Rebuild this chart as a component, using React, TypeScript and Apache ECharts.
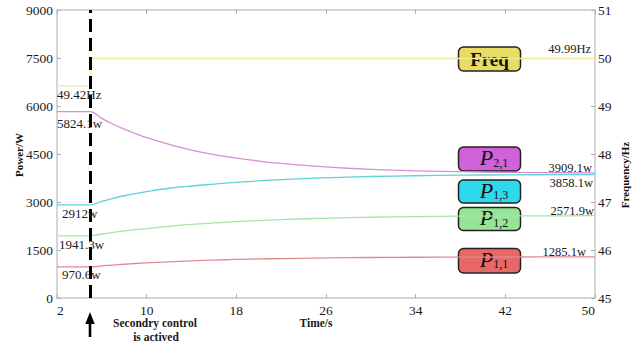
import React, { useEffect, useRef } from "react";
import * as echarts from "echarts";

const times = [2, 5, 6, 7, 8, 9, 10, 12, 14, 16, 18, 20, 22, 25, 28, 32, 36, 40, 45, 50];
const p21 = [5824.1, 5824.1, 5614, 5430, 5275, 5140, 5010, 4800, 4620, 4480, 4370, 4280, 4205, 4120, 4055, 3995, 3960, 3938, 3920, 3909.1];
const p13 = [2912, 2912, 3020, 3115, 3195, 3265, 3325, 3430, 3500, 3560, 3615, 3660, 3700, 3745, 3780, 3810, 3830, 3843, 3852, 3858.1];
const p12 = [1941.3, 1941.3, 2000, 2050, 2095, 2135, 2170, 2240, 2300, 2345, 2385, 2420, 2450, 2485, 2510, 2535, 2550, 2560, 2567, 2571.9];
const p11 = [970.6, 970.6, 1002, 1030, 1055, 1078, 1098, 1132, 1162, 1185, 1205, 1220, 1233, 1248, 1259, 1270, 1276, 1280, 1283, 1285.1];
const freqTimes = [2, 5, 5, 50];
const freqValues = [49.42, 49.42, 49.99, 49.99];
const switchTime = 5;

const SERIF = "Liberation Serif";

const pair = (xs: number[], ys: number[]) => xs.map((x, i) => [x, ys[i]]);

export default function App() {
  const ref = useRef<HTMLDivElement>(null);
  useEffect(() => {
    document.body.style.margin = "0";
    if (!ref.current) return;
    const chart = echarts.init(ref.current, null, { renderer: "svg" });
    const axisLine = { show: true, lineStyle: { color: "#c8c8c8", width: 1.5 } };
    const tick = { show: true, inside: true, length: 4, lineStyle: { color: "#b0b0b0" } };
    const lbl = { fontFamily: SERIF, fontSize: 13.5, color: "#1a1a1a", formatter: (v: number) => String(v) };
    const line = (name: string, data: number[][], color: string, yIdx = 0) => ({
      name,
      type: "line",
      data,
      yAxisIndex: yIdx,
      symbol: "none",
      smooth: 0.3,
      lineStyle: { color, width: 1.3 },
      z: 3,
    });

    const legendBox = (y: number, h: number, fill: string, content: any) => ({
      type: "group",
      children: [
        {
          type: "rect",
          shape: { x: 458.5, y, width: 62, height: h, r: 5 },
          style: { fill, stroke: "#222", lineWidth: 1.5 },
        },
        content,
      ],
    });
    const pLabel = (sub: string, cy: number) => ({
      type: "text",
      x: 494,
      y: cy,
      style: {
        text: `{p|P}{s|${sub}}`,
        align: "center",
        verticalAlign: "middle",
        rich: {
          p: { fontFamily: SERIF, fontStyle: "italic", fontSize: 22, lineHeight: 22, verticalAlign: "top", fill: "#111" },
          s: { fontFamily: SERIF, fontSize: 12, lineHeight: 12, verticalAlign: "bottom", fill: "#111" },
        },
      },
    });
    const txt = (text: string, x: number, y: number, align = "left", size = 13, extra: any = {}) => ({
      type: "text",
      x,
      y,
      style: { text, fontFamily: SERIF, fontSize: size, fill: "#1a1a1a", align, verticalAlign: "middle", ...extra },
      z: 10,
    });

    chart.setOption({
      animation: false,
      backgroundColor: "#ffffff",
      grid: { left: 57, right: 47, top: 10, bottom: 43 },
      xAxis: [
        {
          type: "value",
          min: 2,
          max: 50,
          interval: 8,
          axisLine,
          axisTick: tick,
          splitLine: { show: false },
          axisLabel: { ...lbl, margin: 5, alignMinLabel: "left", alignMaxLabel: "right" },
        },
        {
          type: "value",
          position: "top",
          min: 2,
          max: 50,
          interval: 8,
          axisLine,
          axisTick: tick,
          splitLine: { show: false },
          axisLabel: { show: false },
        },
      ],
      yAxis: [
        {
          type: "value",
          min: 0,
          max: 9000,
          interval: 1500,
          axisLine,
          axisTick: tick,
          splitLine: { show: false },
          axisLabel: { ...lbl, margin: 4 },
        },
        {
          type: "value",
          position: "right",
          min: 45,
          max: 51,
          interval: 1,
          axisLine,
          axisTick: tick,
          splitLine: { show: false },
          axisLabel: { ...lbl, margin: 3 },
        },
      ],
      series: [
        {
          ...line("Freq", pair(freqTimes, freqValues), "#ecec9a", 1),
          smooth: false,
          markLine: {
            silent: true,
            symbol: "none",
            label: { show: false },
            lineStyle: { color: "#000", width: 3, type: [13, 6] },
            data: [{ xAxis: switchTime }],
            z: 5,
          },
        },
        line("P2,1", pair(times, p21), "#d68fd8"),
        line("P1,3", pair(times, p13), "#5fd3d8"),
        line("P1,2", pair(times, p12), "#a9e3a9"),
        line("P1,1", pair(times, p11), "#e08a90"),
      ],
      graphic: [
        legendBox(47, 24, "#e8dc62", {
          type: "text",
          x: 489.5,
          y: 59,
          style: { text: "Freq", fontFamily: SERIF, fontWeight: "bold", fontSize: 19, fill: "#111", align: "center", verticalAlign: "middle" },
        }),
        legendBox(147, 24, "#cf62d8", pLabel("2,1", 157.5)),
        legendBox(180, 23, "#2fd8ea", pLabel("1,3", 190)),
        legendBox(207.5, 23, "#96e496", pLabel("1,2", 217.5)),
        legendBox(248.5, 24.5, "#e86868", pLabel("1,1", 259)),
        txt("49.42Hz", 57, 94),
        txt("5824.1w", 57, 123),
        txt("2912w", 62, 213),
        txt("1941.3w", 59, 244),
        txt("970.6w", 62, 274),
        txt("49.99Hz", 591, 49, "right", 12.5),
        txt("3909.1w", 592, 168, "right", 12.5),
        txt("3858.1w", 593, 183, "right", 12.5),
        txt("2571.9w", 594, 211, "right", 12.5),
        txt("1285.1w", 586, 252, "right", 12.5),
        txt("Time/s", 316, 323, "center", 11.5, { fontWeight: "bold" }),
        txt("Secondry control", 155, 323, "center", 11.5, { fontWeight: "bold" }),
        txt("is actived", 156, 336.5, "center", 11.5, { fontWeight: "bold" }),
        {
          type: "text",
          x: 19,
          y: 155,
          rotation: Math.PI / 2,
          style: { text: "Power/W", fontFamily: SERIF, fontWeight: "bold", fontSize: 11, fill: "#111", align: "center", verticalAlign: "middle" },
        },
        {
          type: "text",
          x: 625,
          y: 175,
          rotation: Math.PI / 2,
          style: { text: "Frequency/Hz", fontFamily: SERIF, fontWeight: "bold", fontSize: 11, fill: "#111", align: "center", verticalAlign: "middle" },
        },
        {
          type: "polygon",
          shape: { points: [[90, 312], [85.3, 324], [94.7, 324]] },
          style: { fill: "#000" },
        },
        {
          type: "rect",
          shape: { x: 88.7, y: 322, width: 2.6, height: 15 },
          style: { fill: "#000" },
        },
      ],
    });
    return () => chart.dispose();
  }, []);
  return <div ref={ref} style={{ width: 642, height: 341 }} />;
}
